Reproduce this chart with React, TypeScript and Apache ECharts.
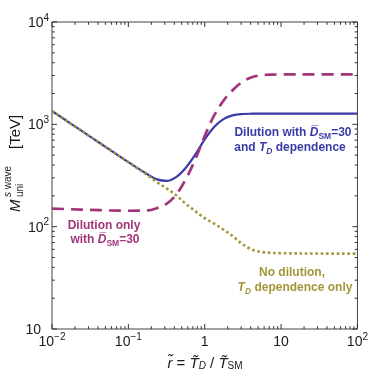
import React, { useEffect, useRef } from 'react';
import * as echarts from 'echarts';

// ---- data ----
const rGrid = [0.01, 0.0178, 0.0316, 0.0562, 0.1, 0.178, 0.237, 0.316, 0.422, 0.562, 0.75, 1, 1.33, 1.78, 2.37, 3.16, 4.22, 5.62, 7.5, 10, 31.6, 100];
const mBlue = [1350, 1012, 759, 569, 427, 325, 290, 280, 305, 375, 505, 714, 943, 1130, 1230, 1262, 1270, 1273, 1275, 1275, 1275, 1275];
const mGold = [1350, 1012, 759, 569, 427, 318, 272, 237, 203, 168, 142, 121, 107, 93, 80, 67, 59.5, 56.5, 55.5, 55, 54.6, 54.5];
const mPink = [150, 148, 146, 144, 143, 144, 152, 167, 205, 289, 452, 768, 1222, 1722, 2188, 2620, 2900, 3020, 3060, 3070, 3080, 3080];

const xMajor = [0.01, 0.1, 1, 10, 100];
const xTickLabels = ['{b|10}{sup|\u22122}', '{b|10}{sup|\u22121}', '{b|1}', '{b|10}', '{b|10}{sup|2}'];
const yMajor = [10, 100, 1000, 10000];
const yTickLabels = ['{b|10}{ph| }', '{b|10}{sup|2}', '{b|10}{sup|3}', '{b|10}{sup|4}'];
const minorMult = [2, 3, 4, 5, 6, 7, 8, 9];

const BLUE = '#3b3ba6';
const PINK = '#a2357a';
const GOLD = '#a5953a';
const INK = '#1a1a1a';
const FONT = '"Liberation Sans", Arial, sans-serif';

const pair = (xs: number[], ys: number[]) => xs.map((x, i) => [x, ys[i]]);

function ticks(majors: number[], isX: boolean) {
  const out: number[][] = [];
  majors.forEach((v, i) => {
    out.push(isX ? [v, 1000, 5] : [1, v, 5]);
    if (i < majors.length - 1) {
      minorMult.forEach((m) => out.push(isX ? [m * v, 1000, 2.8] : [1, m * v, 2.8]));
    }
  });
  return out;
}

export default function App() {
  const ref = useRef<HTMLDivElement>(null);
  useEffect(() => {
    const chart = echarts.init(ref.current!, null, { renderer: 'svg' });
    const labelRich = {
      b: { fontSize: 14, lineHeight: 20, fontFamily: FONT, color: INK },
      sup: { fontSize: 10, verticalAlign: 'top', fontFamily: FONT, color: INK },
      ph: { fontSize: 10, width: 8 },
    };
    const txtRich = (color: string) => ({
      d: { fontStyle: 'italic', fontWeight: 'bold', fontSize: 12, fontFamily: FONT, fill: color, lineHeight: 16 },
      sub: { fontWeight: 'bold', fontSize: 8.5, fontFamily: FONT, fill: color, verticalAlign: 'bottom' },
      subi: { fontStyle: 'italic', fontWeight: 'bold', fontSize: 8.5, fontFamily: FONT, fill: color, verticalAlign: 'bottom' },
    });
    const lab = (x: number, y: number, text: string, color: string) => ({
      type: 'text',
      x,
      y,
      style: {
        text,
        fill: color,
        fontSize: 12,
        fontWeight: 'bold',
        fontFamily: FONT,
        align: 'center',
        verticalAlign: 'middle',
        lineHeight: 16,
        rich: txtRich(color),
      },
    });
    const tickStyle = { stroke: '#333', lineWidth: 1 };
    const lineCommon = { type: 'line', showSymbol: false, smooth: 0.35 };
    const option: any = {
      animation: false,
      grid: { left: 52, top: 22, width: 307, height: 307, show: true, borderColor: '#444', borderWidth: 1, backgroundColor: 'transparent' },
      xAxis: {
        type: 'log',
        logBase: 10,
        min: 0.01,
        max: 100,
        axisLine: { show: false },
        axisTick: { show: false },
        splitLine: { show: false },
        minorTick: { show: false },
        axisLabel: {
          margin: 2,
          showMinLabel: true,
          showMaxLabel: true,
          hideOverlap: false,
          formatter: (v: number) => {
            const p = Math.round(Math.log10(v));
            const i = xMajor.findIndex((m) => Math.round(Math.log10(m)) === p);
            return i >= 0 ? xTickLabels[i] : '';
          },
          rich: labelRich,
        },
      },
      yAxis: {
        type: 'log',
        logBase: 10,
        min: 10,
        max: 10000,
        axisLine: { show: false },
        axisTick: { show: false },
        splitLine: { show: false },
        minorTick: { show: false },
        axisLabel: {
          margin: 3,
          showMinLabel: true,
          showMaxLabel: true,
          hideOverlap: false,
          formatter: (v: number) => {
            const p = Math.round(Math.log10(v));
            const i = yMajor.findIndex((m) => Math.round(Math.log10(m)) === p);
            return i >= 0 ? yTickLabels[i] : '';
          },
          rich: labelRich,
        },
      },
      series: [
        { ...lineCommon, data: pair(rGrid, mBlue), lineStyle: { color: BLUE, width: 2.2 }, z: 3 },
        { ...lineCommon, data: pair(rGrid, mGold), lineStyle: { color: GOLD, width: 2.6, type: [2.6, 2.7] }, z: 4 },
        { ...lineCommon, data: pair(rGrid, mPink), lineStyle: { color: PINK, width: 2.7, type: [12, 7] }, z: 5 },
        {
          type: 'custom',
          data: ticks(xMajor, true),
          encode: { x: 0, y: 1 },
          silent: true,
          z: 6,
          renderItem: (params: any, api: any) => {
            const cs = params.coordSys;
            const px = api.coord([api.value(0), 1000])[0];
            const len = api.value(2);
            const b = cs.y + cs.height;
            return {
              type: 'group',
              children: [
                { type: 'line', shape: { x1: px, y1: b, x2: px, y2: b - len }, style: tickStyle },
                { type: 'line', shape: { x1: px, y1: cs.y, x2: px, y2: cs.y + len }, style: tickStyle },
              ],
            };
          },
        },
        {
          type: 'custom',
          data: ticks(yMajor, false),
          encode: { x: 0, y: 1 },
          silent: true,
          z: 6,
          renderItem: (params: any, api: any) => {
            const cs = params.coordSys;
            const py = api.coord([1, api.value(1)])[1];
            const len = api.value(2);
            const r = cs.x + cs.width;
            return {
              type: 'group',
              children: [
                { type: 'line', shape: { x1: cs.x, y1: py, x2: cs.x + len, y2: py }, style: tickStyle },
                { type: 'line', shape: { x1: r, y1: py, x2: r - len, y2: py }, style: tickStyle },
              ],
            };
          },
        },
      ],
      graphic: [
        lab(293, 132, 'Dilution with {d|D\u0305}{sub|SM}=30', BLUE),
        lab(290, 147, 'and {d|T}{subi|D} dependence', BLUE),
        lab(104, 225, 'Dilution only', PINK),
        lab(105, 239, 'with {d|D\u0305}{sub|SM}=30', PINK),
        lab(292, 272, 'No dilution,', GOLD),
        lab(295, 287, '{d|T}{subi|D} dependence only', GOLD),
        {
          type: 'text',
          x: 205,
          y: 362,
          style: {
            text: '{i|r\u0303} = {i|T\u0303}{si|D} / {i|T\u0303}{s|SM}',
            fontSize: 15,
            fontFamily: FONT,
            fill: INK,
            align: 'center',
            verticalAlign: 'middle',
            lineHeight: 17,
            rich: {
              i: { fontStyle: 'italic', fontSize: 15, fontFamily: FONT, fill: INK, lineHeight: 17 },
              si: { fontStyle: 'italic', fontSize: 10, fontFamily: FONT, fill: INK, verticalAlign: 'bottom' },
              s: { fontSize: 10, fontFamily: FONT, fill: INK, verticalAlign: 'bottom' },
            },
          },
        },
        {
          type: 'group',
          x: 14,
          y: 212,
          rotation: Math.PI / 2,
          children: [
            { type: 'text', x: 0, y: 0, style: { text: 'M', fontSize: 15, fontStyle: 'italic', fontFamily: FONT, fill: INK, align: 'left', verticalAlign: 'middle' } },
            { type: 'text', x: 15, y: 5, style: { text: 'uni', fontSize: 10, fontFamily: FONT, fill: INK, align: 'left', verticalAlign: 'middle' } },
            { type: 'text', x: 15, y: -7, style: { text: '{i|s} wave', fontSize: 10, fontFamily: FONT, fill: INK, align: 'left', verticalAlign: 'middle', rich: { i: { fontStyle: 'italic', fontSize: 10, fontFamily: FONT, fill: INK } } } },
            { type: 'text', x: 63, y: 0, style: { text: '[TeV]', fontSize: 15, fontFamily: FONT, fill: INK, align: 'left', verticalAlign: 'middle' } },
          ],
        },
      ],
    };
    chart.setOption(option);
    return () => chart.dispose();
  }, []);
  return <div ref={ref} style={{ position: 'fixed', left: 0, top: 0, width: 371, height: 374 }} />;
}
